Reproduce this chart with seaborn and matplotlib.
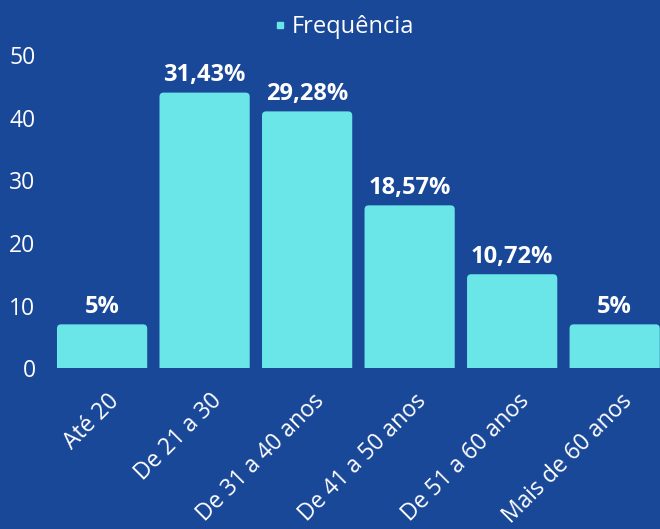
import numpy as np
import pandas as pd
import seaborn as sns
import matplotlib.pyplot as plt
import matplotlib.transforms as mtransforms
from matplotlib.lines import Line2D
from matplotlib.patches import FancyBboxPatch

# data
faixas = ["Até 20", "De 21 a 30", "De 31 a 40 anos", "De 41 a 50 anos",
          "De 51 a 60 anos", "Mais de 60 anos"]
frequencia = [7, 44, 41, 26, 15, 7]
rotulos = ["5%", "31,43%", "29,28%", "18,57%", "10,72%", "5%"]

bg = "#1a4898"
bar_color = "#6ae5e8"

sns.set_style("white")
plt.rcParams['font.family'] = ['Open Sans', 'Noto Sans', 'DejaVu Sans']

df = pd.DataFrame({"Faixa": faixas, "Frequência": frequencia})

fig = plt.figure(figsize=(6.6, 5.29), dpi=100, facecolor=bg)
ax = fig.add_axes([0.077, 0.304, 0.932, 0.592])
ax.set_facecolor(bg)

sns.barplot(data=df, x="Faixa", y="Frequência", color=bar_color,
            saturation=1, width=0.88, linewidth=0, ax=ax)

ax.set_ylim(0, 50)
ax.set_xlim(-0.5, 5.5)
ax.set_yticks(np.arange(0, 51, 10))
ax.set_xlabel("")
ax.set_ylabel("")
for s in ax.spines.values():
    s.set_visible(False)

# rounded tops: swap each bar for a rounded box (bottom hidden below 0)
aspect = (50 / (0.592 * 529)) / (6 / (0.932 * 660))
bars = list(ax.patches)
for bar in bars:
    x, w, h = bar.get_x(), bar.get_width(), bar.get_height()
    box = FancyBboxPatch((x, -1), w, h + 1,
                         boxstyle="round,pad=0,rounding_size=0.04",
                         mutation_aspect=aspect, facecolor=bar_color,
                         edgecolor='none')
    ax.add_patch(box)
    bar.set_visible(False)

ax.tick_params(axis='both', length=0, colors='white', labelsize=16.5)
ax.tick_params(axis='y', pad=11)
ax.tick_params(axis='x', pad=15)
offset = mtransforms.ScaledTranslation(5 / 100, 0, fig.dpi_scale_trans)
for lab in ax.get_xticklabels():
    lab.set_rotation(45)
    lab.set_ha('right')
    lab.set_rotation_mode('anchor')
    lab.set_transform(lab.get_transform() + offset)

for bar, txt in zip(bars, rotulos):
    ax.annotate(txt, (bar.get_x() + bar.get_width() / 2, bar.get_height()),
                ha='center', va='bottom', xytext=(0, 4), textcoords='offset points',
                color='white', fontsize=17, fontweight='bold', annotation_clip=False)

handle = Line2D([], [], marker='s', linestyle='', color=bar_color,
                markersize=5, label="Frequência")
fig.legend(handles=[handle], loc='center',
           bbox_to_anchor=(345 / 660, 1 - 27 / 529), frameon=False,
           handlelength=0.4, handletextpad=0.3,
           labelcolor='white', fontsize=17)

plt.savefig("out.png", dpi=100, facecolor=bg)
